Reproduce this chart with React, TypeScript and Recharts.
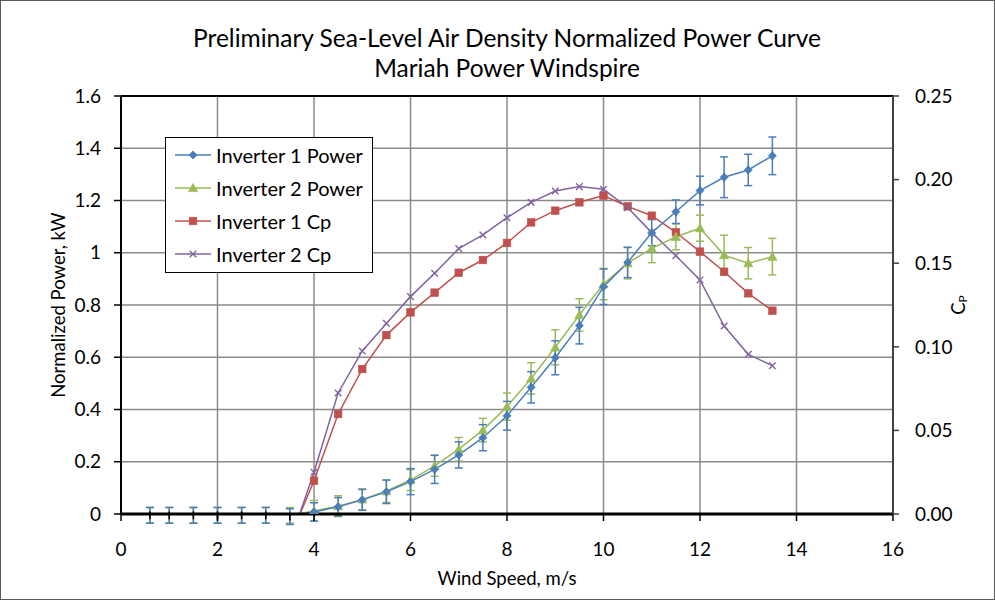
import React from 'react';
import { ComposedChart, Line, XAxis, YAxis, CartesianGrid, ErrorBar, Legend, ReferenceLine, Label } from 'recharts';

const windSpeed = [0.6, 1, 1.5, 2, 2.5, 3, 3.5, 4, 4.5, 5, 5.5, 6, 6.5, 7, 7.5, 8, 8.5, 9, 9.5, 10, 10.5, 11, 11.5, 12, 12.5, 13, 13.5];
const inv1Power = [-0.005, -0.005, -0.005, -0.005, -0.005, -0.005, -0.01, 0.008, 0.028, 0.054, 0.085, 0.124, 0.171, 0.226, 0.292, 0.376, 0.485, 0.598, 0.721, 0.870, 0.963, 1.077, 1.157, 1.238, 1.289, 1.317, 1.371];
const inv2Power = [-0.005, -0.005, -0.005, -0.005, -0.005, -0.005, -0.005, 0.012, 0.03, 0.056, 0.087, 0.130, 0.184, 0.248, 0.321, 0.411, 0.519, 0.638, 0.762, 0.880, 0.960, 1.017, 1.061, 1.094, 0.991, 0.960, 0.985];
const inv1Err = [0.03, 0.03, 0.03, 0.03, 0.03, 0.03, 0.03, 0.035, 0.035, 0.04, 0.045, 0.05, 0.054, 0.05, 0.05, 0.055, 0.06, 0.065, 0.07, 0.068, 0.058, 0.05, 0.045, 0.055, 0.078, 0.06, 0.072];
const inv2Err = [0.03, 0.03, 0.03, 0.03, 0.03, 0.03, 0.03, 0.04, 0.04, 0.04, 0.043, 0.04, 0.04, 0.045, 0.045, 0.052, 0.06, 0.067, 0.062, 0.06, 0.06, 0.055, 0.05, 0.05, 0.076, 0.06, 0.07];
const blackErr = [0.015, 0.015, 0.015, 0.015, 0.015, 0.015, 0.015, 0.015, 0.015, 0.015, 0.015, 0.015, 0.015, 0.015, 0.015, 0.015, 0.015, 0.015, 0.015, 0.015, 0.015, 0.015, 0.015, 0.015, 0.015, 0.015, 0.015];
const inv1Cp = [null, null, null, null, null, null, -0.0145, 0.0199, 0.0598, 0.0867, 0.107, 0.1206, 0.1324, 0.1443, 0.1519, 0.1621, 0.1744, 0.1814, 0.1864, 0.1904, 0.184, 0.1784, 0.1685, 0.1569, 0.1449, 0.132, 0.1216];
const inv2Cp = [null, null, null, null, null, null, -0.017, 0.025, 0.0724, 0.0975, 0.114, 0.130, 0.144, 0.1587, 0.1669, 0.1772, 0.1864, 0.1932, 0.1958, 0.1942, 0.1833, 0.1683, 0.1545, 0.140, 0.1124, 0.0955, 0.0887];

const xTicks = [0, 2, 4, 6, 8, 10, 12, 14, 16];
const powerTicks = [0, 0.2, 0.4, 0.6, 0.8, 1, 1.2, 1.4, 1.6];
const cpTicks = [0, 0.05, 0.1, 0.15, 0.2, 0.25];

const BLUE = '#4A7EBB';
const GREEN = '#9BBB59';
const RED = '#C0504D';
const PURPLE = '#8064A2';

const data = windSpeed.map((x, i) => ({
  x,
  p1: inv1Power[i],
  p2: inv2Power[i],
  e1: inv1Err[i],
  e2: inv2Err[i],
  eb: blackErr[i],
  c1: inv1Cp[i],
  c2: inv2Cp[i],
}));

type Shape = 'diamond' | 'triangle' | 'square' | 'x';

function marker(shape: Shape, color: string, cx: number, cy: number, key?: any) {
  if (shape === 'diamond') {
    const s = 4;
    return <path key={key} d={`M${cx},${cy - s}L${cx + s},${cy}L${cx},${cy + s}L${cx - s},${cy}Z`} fill={color} stroke={color} strokeWidth={0.8} />;
  }
  if (shape === 'triangle') {
    const s = 4.5;
    return <path key={key} d={`M${cx},${cy - s}L${cx + s},${cy + s * 0.8}L${cx - s},${cy + s * 0.8}Z`} fill={color} stroke={color} strokeWidth={0.8} />;
  }
  if (shape === 'square') {
    const s = 3.8;
    return <rect key={key} x={cx - s} y={cy - s} width={2 * s} height={2 * s} fill={color} stroke={color} strokeWidth={0.6} />;
  }
  const s = 3.3;
  return <path key={key} d={`M${cx - s},${cy - s}L${cx + s},${cy + s}M${cx + s},${cy - s}L${cx - s},${cy + s}`} stroke={color} strokeWidth={1.4} fill="none" />;
}

const makeDot = (shape: Shape, color: string, key: string) => (props: any) => {
  const { cx, cy, payload, index } = props;
  const v = payload ? payload[key] : null;
  if (cx == null || cy == null || v == null || v < 0) return <g key={`d-${key}-${index}`} />;
  return marker(shape, color, cx, cy, `d-${key}-${index}`);
};

const legendItems: { name: string; color: string; shape: Shape }[] = [
  { name: 'Inverter 1 Power', color: BLUE, shape: 'diamond' },
  { name: 'Inverter 2 Power', color: GREEN, shape: 'triangle' },
  { name: 'Inverter 1 Cp', color: RED, shape: 'square' },
  { name: 'Inverter 2 Cp', color: PURPLE, shape: 'x' },
];

const LegendBox = () => (
  <div style={{ width: 206, height: 134, border: '1px solid #000', background: '#fff', boxSizing: 'content-box' }}>
    {legendItems.map((it) => (
      <div key={it.name} style={{ display: 'flex', alignItems: 'center', height: 33, marginLeft: 8 }}>
        <svg width={38} height={14} style={{ display: 'block' }}>
          <line x1={1} y1={7} x2={37} y2={7} stroke={it.color} strokeWidth={1.5} />
          {marker(it.shape, it.color, 19, 7)}
        </svg>
        <span style={{ fontSize: 20, color: '#000', marginLeft: 4, whiteSpace: 'nowrap' }}>{it.name}</span>
      </div>
    ))}
  </div>
);

const tickStyle = { fill: '#000', fontSize: 19 };

export default function App() {
  return (
    <div style={{ position: 'absolute', left: 0, top: 0, width: 995, height: 602, fontFamily: 'Lato, "Liberation Sans", sans-serif', background: '#fff' }}>
      <div style={{ position: 'absolute', left: 0, top: 0, width: 993, height: 598, border: '1px solid #595959' }} />
      <div style={{ position: 'absolute', left: 0, top: 23, width: 1014, textAlign: 'center', fontSize: 24.5, lineHeight: '30px', color: '#000' }}>
        <div>Preliminary Sea-Level Air Density Normalized Power Curve</div>
        <div>Mariah Power Windspire</div>
      </div>
      <ComposedChart width={995} height={602} data={data} margin={{ top: 96, right: 32, bottom: 48, left: 51 }} style={{ position: 'absolute', left: 0, top: 0 }}>
        <CartesianGrid yAxisId="left" stroke="#8a8a8a" strokeWidth={1.5} />
        <XAxis
          type="number"
          dataKey="x"
          domain={[0, 16]}
          ticks={xTicks}
          height={40}
          tick={tickStyle}
          tickSize={7}
          tickMargin={22}
          axisLine={{ stroke: '#000', strokeWidth: 3 }}
          tickLine={{ stroke: '#000', strokeWidth: 1.5 }}
        >
          <Label
            content={(p: any) => {
              const vb = p.viewBox;
              return (
                <text x={vb.x + vb.width / 2} y={578} textAnchor="middle" dominantBaseline="central" fontSize={18.5} fill="#000">
                  Wind Speed, m/s
                </text>
              );
            }}
          />
        </XAxis>
        <YAxis
          yAxisId="left"
          type="number"
          domain={[0, 1.6]}
          ticks={powerTicks}
          allowDataOverflow
          width={70}
          tick={tickStyle}
          tickSize={7}
          tickMargin={13}
          axisLine={{ stroke: '#000', strokeWidth: 2 }}
          tickLine={{ stroke: '#000', strokeWidth: 1.5 }}
        >
          <Label
            content={(p: any) => {
              const vb = p.viewBox;
              const cy = vb.y + vb.height / 2;
              return (
                <text x={58} y={cy} transform={`rotate(-90, 58, ${cy})`} textAnchor="middle" dominantBaseline="central" fontSize={18.5} fill="#000">
                  Normalized Power, kW
                </text>
              );
            }}
          />
        </YAxis>
        <YAxis
          yAxisId="right"
          orientation="right"
          type="number"
          domain={[0, 0.25]}
          ticks={cpTicks}
          allowDataOverflow
          width={70}
          tick={tickStyle}
          tickFormatter={(v: number) => v.toFixed(2)}
          tickSize={6}
          tickMargin={16}
          axisLine={{ stroke: '#404040', strokeWidth: 2 }}
          tickLine={{ stroke: '#404040', strokeWidth: 1.5 }}
        >
          <Label
            content={(p: any) => {
              const vb = p.viewBox;
              const cy = vb.y + vb.height / 2;
              return (
                <text x={958} y={cy} transform={`rotate(-90, 958, ${cy})`} textAnchor="middle" dominantBaseline="central" fontSize={18.5} fill="#000">
                  C<tspan fontSize={12} dy={4}>P</tspan>
                </text>
              );
            }}
          />
        </YAxis>
        <ReferenceLine yAxisId="left" y={1.6} stroke="#000" strokeWidth={2} />
        <Line yAxisId="right" dataKey="c1" stroke={RED} strokeWidth={1.5} dot={makeDot('square', RED, 'c1')} activeDot={false} isAnimationActive={false} />
        <Line yAxisId="right" dataKey="c2" stroke={PURPLE} strokeWidth={1.5} dot={makeDot('x', PURPLE, 'c2')} activeDot={false} isAnimationActive={false} />
        <Line yAxisId="left" dataKey="p2" stroke={GREEN} strokeWidth={1.5} dot={makeDot('triangle', GREEN, 'p2')} activeDot={false} isAnimationActive={false}>
          <ErrorBar dataKey="e2" direction="y" stroke={GREEN} strokeWidth={1.5} width={4} isAnimationActive={false} />
        </Line>
        <Line yAxisId="left" dataKey="p1" stroke={BLUE} strokeWidth={1.5} dot={makeDot('diamond', BLUE, 'p1')} activeDot={false} isAnimationActive={false}>
          <ErrorBar dataKey="e1" direction="y" stroke={BLUE} strokeWidth={1.5} width={4} isAnimationActive={false} />
          <ErrorBar dataKey="eb" direction="y" stroke="#000" strokeWidth={1.5} width={0} isAnimationActive={false} />
        </Line>
        <Legend layout="vertical" align="center" verticalAlign="middle" content={() => <LegendBox />} wrapperStyle={{ left: 165, top: 137, width: 'auto' }} />
      </ComposedChart>
    </div>
  );
}
